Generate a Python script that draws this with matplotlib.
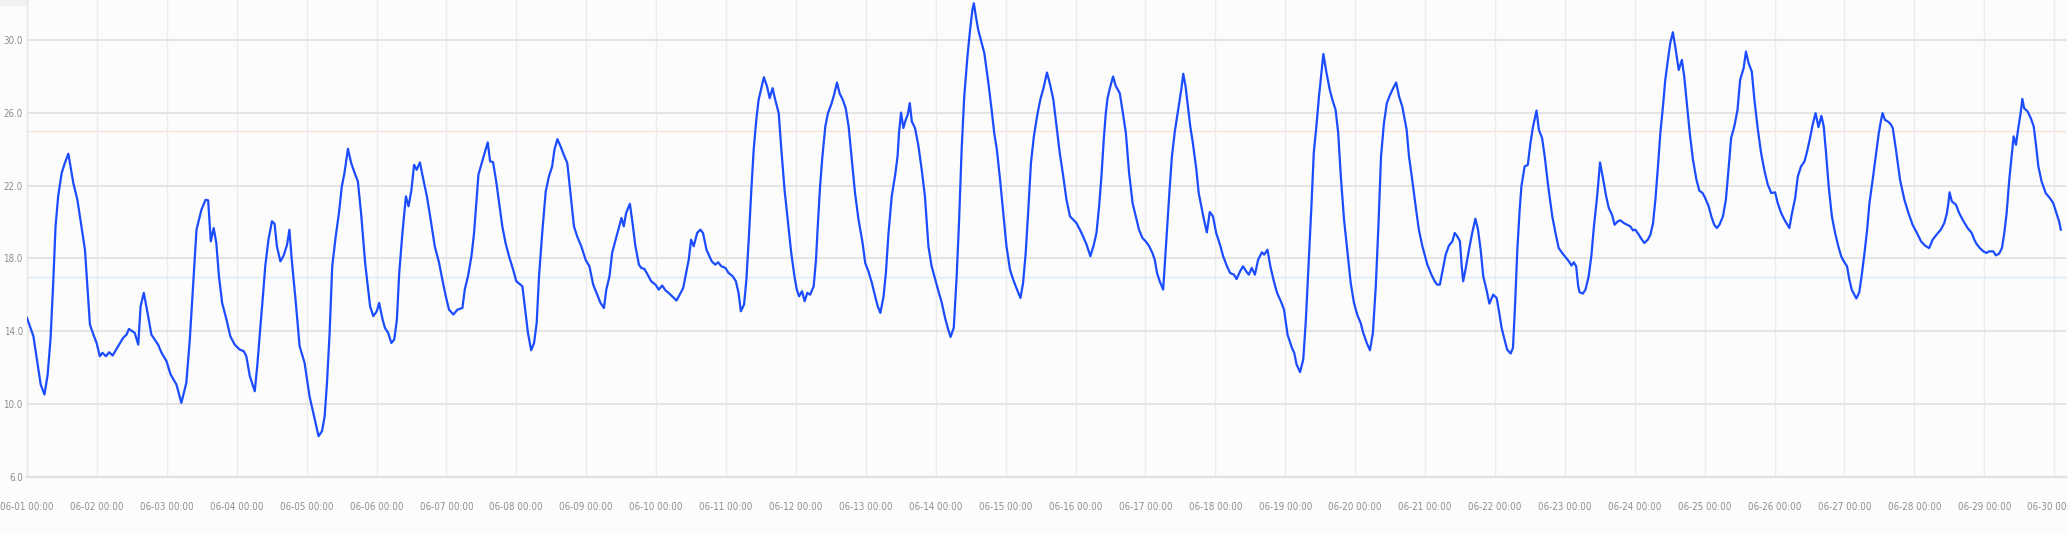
import matplotlib
matplotlib.use("Agg")
import matplotlib.pyplot as plt
import matplotlib.dates as mdates
from matplotlib import font_manager
import pandas as pd

# hours after 06-01 00:00 and temperature values
hours = [
    0.0, 2.2, 4.7, 6.0, 7.1, 8.1, 9.0, 9.8, 10.7, 11.9, 13.0, 14.2, 15.9, 17.3, 18.7, 19.9,
    20.8, 21.6, 23.0, 23.9, 25.0, 25.9, 27.1, 28.2, 29.4, 31.3, 33.0, 34.2, 35.0, 37.0, 38.2,
    39.0, 40.1, 41.6, 42.7, 45.0, 46.2, 47.9, 49.3, 51.3, 53.0, 54.7, 55.9, 57.0, 58.2, 59.9,
    61.3, 62.2, 63.1, 64.1, 65.0, 65.9, 67.0, 68.5, 69.8, 71.3, 73.0, 74.4, 75.3, 76.5, 78.2,
    79.1, 80.1, 81.0, 81.8, 82.9, 84.1, 85.0, 85.8, 87.0, 88.1, 89.3, 90.1, 91.0, 92.2, 93.6,
    95.3, 97.0, 98.8, 100.1, 101.3, 102.2, 103.0, 103.9, 104.8, 106.0, 107.1, 108.1, 109.0,
    110.2, 111.3, 112.5, 113.6, 114.7, 116.1,
    117.8, 118.9, 120.1, 120.9, 122.1, 122.9, 124.0, 125.1, 126.1, 127.0, 127.8, 128.9, 130.1,
    131.0, 132.0, 132.9, 133.8, 134.9, 136.1, 137.3, 138.6, 140.0, 141.5, 142.6, 143.8, 144.9,
    146.4, 147.8, 149.5, 150.3, 151.4, 152.6, 153.5, 154.2, 155.0, 155.8, 157.1, 158.2, 159.0,
    160.0, 161.1, 162.1, 163.2, 164.3, 165.5, 166.9, 168.0, 170.1, 170.9, 172.0, 173.1, 174.1,
    175.0, 175.8, 176.9, 178.1, 179.2, 180.3, 181.1, 182.1, 183.2, 184.3, 185.5, 186.6, 187.8,
    188.9, 190.3, 191.8, 193.1, 194.4, 195.8, 196.9, 198.1, 198.9, 200.0, 200.9, 202.1, 203.2,
    204.1, 204.9, 205.7, 207.0, 207.9, 208.9, 210.1, 210.9, 212.0, 213.1, 214.3, 215.8, 216.9,
    218.1, 219.2, 220.3, 221.5, 223.0, 224.1, 225.3, 226.1, 227.2, 228.0, 228.9, 230.1, 231.2,
    232.1, 233.3,
    235.1, 236.3, 237.3, 238.4, 239.8, 240.9, 242.3, 243.4, 244.3, 245.1, 246.2, 247.0, 247.8,
    248.7, 249.5, 250.4, 251.2, 252.0, 253.0, 254.1, 255.0, 256.0, 256.9, 258.1, 259.0, 260.1,
    261.3, 262.4, 263.5, 264.3, 265.1, 266.1, 267.0, 267.9, 268.9, 270.1, 270.9, 271.5, 272.3,
    273.1, 274.1, 275.0, 276.1, 277.1, 278.1, 279.0, 280.1, 281.1, 282.1, 283.2, 284.3, 285.5,
    286.9, 287.8, 288.9, 290.1, 291.2, 292.1, 293.0, 294.1, 294.9, 295.8, 296.9, 298.1, 298.9,
    299.4, 300.1, 300.9, 301.7, 302.4, 303.1, 303.8, 304.9, 306.1, 307.2, 308.3, 309.5, 310.6,
    312.0, 313.1, 314.1, 315.2, 316.3, 317.1, 318.2, 319.2, 320.0, 320.9, 321.8, 322.9, 323.8,
    324.6, 325.1, 325.8, 326.6, 327.5, 328.7, 330.1, 331.2, 332.1, 333.0, 334.1, 335.2, 336.3,
    337.5, 338.6, 339.7, 341.1, 342.0, 342.9, 343.8, 344.7, 345.7, 346.9, 347.9, 349.0, 350.2,
    351.3, 352.4,
    354.6, 355.8, 356.9, 358.1, 359.2, 360.3, 361.5, 362.6, 363.8, 365.1, 366.3, 367.2, 368.1,
    368.9, 369.7, 370.4, 371.0, 371.8, 372.9, 373.8, 375.2, 376.1, 377.3, 378.4, 379.6, 380.7,
    381.8, 383.0, 384.1, 385.3, 386.4, 387.2, 388.0, 388.9, 390.1, 390.9, 391.5, 392.3, 393.1,
    394.1, 394.9, 395.8, 396.3, 397.0, 397.8, 398.6, 399.4, 400.3, 401.5, 402.3, 403.2, 404.1,
    405.1, 406.1, 407.2, 408.3, 409.6, 410.7, 412.0, 413.1, 414.4, 415.3, 416.5, 417.5, 418.6,
    419.5, 420.5, 421.6, 422.7, 424.0, 424.8, 425.9, 426.9, 428.1, 429.2, 430.5, 431.6, 432.8,
    434.3, 435.1, 435.9, 437.1, 438.2, 439.1, 440.0, 441.0, 441.8, 442.7, 443.6, 444.3, 445.1,
    446.1, 447.3, 448.2, 449.3, 450.2, 451.1, 452.2, 453.3, 454.5, 455.6, 456.7, 457.9, 458.8,
    460.0, 461.1, 462.1, 463.1, 464.0, 464.9, 465.9, 466.9, 468.0, 468.8, 470.1, 471.1, 472.2,
    473.7, 474.5, 475.3, 476.2, 477.1, 477.9, 479.1, 480.8, 482.2, 483.3, 484.2, 485.1, 486.1,
    487.1, 488.2, 489.4, 490.2, 491.1, 492.0, 492.6, 493.1, 493.9, 495.1, 496.2, 497.3, 498.2,
    499.1, 500.0, 501.1, 502.1, 502.7, 503.4, 504.6, 505.4, 506.3, 507.3, 508.2, 509.4, 510.2,
    510.9, 511.7, 512.5, 513.1, 514.2, 515.3, 516.2, 517.1, 518.3, 519.1, 520.2, 521.1, 522.3,
    523.7, 524.8, 525.9, 527.1, 528.2, 529.4, 530.3, 531.1, 531.9, 532.6, 533.1, 534.2, 535.1,
    536.2, 537.1, 538.0, 539.1, 540.1, 541.2, 542.2, 543.1, 544.2, 545.1, 546.2, 547.1, 548.2,
    549.4, 550.5, 551.4, 552.2, 553.4, 554.3, 555.3, 556.5, 557.4, 558.3, 559.1, 559.9, 560.8,
    561.7, 562.5, 563.4, 564.2, 565.1, 566.1, 567.1, 568.2, 569.0, 569.9, 570.9, 572.0, 573.2,
    574.2, 575.3, 576.2, 577.4, 578.3, 579.3, 580.2, 581.1, 582.3, 583.3, 584.2, 585.1, 586.2,
    587.3, 588.2, 589.4,
    590.2, 591.1, 592.2, 593.1, 594.3, 595.4, 596.6, 597.7, 598.9, 600.2, 601.1, 602.3, 603.4,
    605.1, 605.9, 607.1, 608.0, 609.1, 610.3, 611.2, 612.2, 613.1, 614.1, 615.1, 616.1, 616.9,
    617.7, 618.6, 619.7, 620.8, 621.9, 622.9, 623.8, 624.9, 625.7, 626.5, 627.4, 628.1, 629.1,
    629.9, 630.9, 631.8, 632.6, 633.7, 634.9, 635.8, 636.6, 637.1, 637.9, 638.9, 639.8, 640.6,
    641.7, 643.1, 644.6, 646.0, 647.4, 648.9, 650.3, 651.7, 653.1, 654.3, 655.8, 657.1, 658.3,
    659.2, 659.7, 660.1, 660.9, 662.3, 663.4, 664.9, 666.3, 667.7, 668.6, 669.4, 670.5, 671.7,
    672.8, 673.7, 675.1, 676.0, 677.1, 678.1, 678.9, 679.7, 680.6, 681.4, 682.1, 682.9, 683.7,
    684.5, 685.1, 685.7, 686.9, 688.0, 689.0, 689.7, 690.6, 691.7, 693.1, 694.5, 695.7, 696.8,
    697.7, 698.3,
]

temps = [
    14.73, 13.73, 11.08, 10.53, 11.63, 13.64, 16.65, 19.76, 21.41, 22.69, 23.24, 23.75, 22.14,
    21.22, 19.76, 18.48, 16.29, 14.37, 13.73, 13.36, 12.63, 12.82, 12.63, 12.85, 12.67, 13.18,
    13.64, 13.82, 14.13, 13.91, 13.27, 15.37, 16.11, 14.83, 13.82, 13.27, 12.82, 12.36, 11.63,
    11.08, 10.07, 11.17, 13.55, 16.47, 19.58, 20.68, 21.22, 21.19, 18.94, 19.67, 18.85, 17.02,
    15.56, 14.64, 13.73, 13.27, 13.00, 12.91, 12.63, 11.54, 10.71, 12.18, 14.19, 15.92, 17.57,
    19.03, 20.04, 19.91, 18.67, 17.84, 18.15, 18.76, 19.58, 17.75, 15.74, 13.18, 12.27, 10.44,
    9.16, 8.24, 8.52, 9.34, 11.17, 13.91, 17.57, 19.21, 20.49, 21.96, 22.69, 24.02, 23.24,
    22.69, 22.23, 20.49, 17.75,
    15.37, 14.83, 15.10, 15.56, 14.64, 14.19, 13.91, 13.36, 13.55, 14.64, 17.20, 19.40, 21.41,
    20.86, 21.77, 23.14, 22.87, 23.27, 22.32, 21.41, 20.13, 18.67, 17.75, 16.84, 15.92, 15.19,
    14.92, 15.19, 15.28, 16.29, 17.02, 18.12, 19.40, 20.86, 22.60, 23.05, 23.78, 24.37, 23.33,
    23.29, 22.23, 21.04, 19.76, 18.85, 18.12, 17.39, 16.75, 16.47, 15.37, 13.91, 12.96, 13.36,
    14.46, 17.02, 19.40, 21.68, 22.50, 23.05, 23.97, 24.55, 24.15, 23.69, 23.24, 21.59, 19.76,
    19.21, 18.67, 17.93, 17.57, 16.56, 16.01, 15.56, 15.28, 16.29, 17.02, 18.30, 19.03, 19.67,
    20.22, 19.76, 20.49, 21.00, 19.95, 18.67, 17.66, 17.48, 17.42, 17.11, 16.75, 16.56, 16.29,
    16.51, 16.25, 16.11, 15.92, 15.69, 16.01, 16.38, 17.02, 17.93, 19.03, 18.67, 19.40, 19.58,
    19.40, 18.48,
    17.84, 17.66, 17.79, 17.57, 17.48, 17.20, 17.02, 16.75, 16.11, 15.10, 15.47, 16.84, 19.03,
    21.77, 23.97, 25.61, 26.71, 27.26, 27.95, 27.44, 26.80, 27.35, 26.71, 25.98, 23.97, 21.77,
    19.95, 18.30, 17.02, 16.29, 15.92, 16.20, 15.65, 16.11, 16.01, 16.47, 17.93, 19.76, 21.96,
    23.60, 25.25, 25.98, 26.44, 26.98, 27.66, 27.07, 26.71, 26.25, 25.25, 23.42, 21.59, 20.13,
    18.85, 17.75, 17.29, 16.65, 15.92, 15.37, 15.01, 15.92, 17.20, 19.40, 21.41, 22.60, 23.60,
    24.88, 26.01, 25.16, 25.61, 25.89, 26.53, 25.52, 25.16, 24.15, 22.87, 21.41, 18.67, 17.57,
    16.75, 16.11, 15.56, 14.74, 14.10, 13.69, 14.19, 17.02, 19.95, 23.97, 26.89, 29.09, 30.55,
    31.65, 32.01, 31.28, 30.55, 30.00, 29.27, 27.62, 26.16, 24.88, 23.97, 22.32, 20.49, 18.67,
    17.39, 16.84, 16.38, 15.83, 16.65, 18.30, 20.68, 23.24, 24.70, 25.89, 26.71, 27.35, 28.21,
    27.53, 26.71,
    23.78, 22.50, 21.22, 20.31, 20.13, 19.95, 19.58, 19.21, 18.76, 18.12, 18.76, 19.40, 20.86,
    22.50, 24.52, 25.98, 26.80, 27.35, 27.99, 27.48, 27.07, 26.16, 24.88, 22.69, 21.04, 20.31,
    19.58, 19.12, 18.94, 18.67, 18.30, 17.93, 17.20, 16.75, 16.29, 18.30, 19.76, 21.77, 23.60,
    24.97, 25.80, 26.71, 27.26, 28.14, 27.44, 26.34, 25.25, 24.33, 22.87, 21.59, 20.86, 20.13,
    19.43, 20.55, 20.31, 19.40, 18.76, 18.12, 17.57, 17.20, 17.11, 16.87, 17.29, 17.57, 17.29,
    17.11, 17.48, 17.11, 17.93, 18.34, 18.21, 18.48, 17.57, 16.75, 16.11, 15.65, 15.19, 13.82,
    13.09, 12.82, 12.18, 11.76, 12.45, 14.64, 17.57, 20.86, 23.78, 25.25, 26.89, 27.99, 29.23,
    28.26, 27.26, 26.71, 26.16, 24.88, 22.50, 20.13, 18.48, 16.65, 15.56, 14.92, 14.46, 13.91,
    13.36, 12.96, 13.91, 16.47, 19.76, 23.60, 25.43, 26.53, 26.98, 27.26, 27.66, 26.89, 26.34,
    25.06, 23.60, 22.69, 21.59, 20.49, 19.58, 18.67, 17.66, 17.11, 16.75, 16.56, 16.56, 17.39,
    18.21, 18.70, 18.94, 19.40, 19.21, 18.94, 17.57, 16.75, 17.39, 18.48, 19.40, 20.18, 19.58,
    18.48, 17.02, 16.29, 15.52, 15.74, 16.01, 15.83, 15.10, 14.19, 13.55, 13.00, 12.78, 13.09,
    15.37, 18.48, 20.68, 21.96, 23.05, 23.14, 24.33, 25.25, 26.12, 25.06, 24.61, 23.60, 21.96,
    20.31, 19.40, 18.57, 18.30, 18.08, 17.84, 17.61, 17.79, 17.57, 16.47, 16.14, 16.07, 16.29,
    17.02, 18.12, 19.76, 21.41, 23.27, 22.32, 21.41, 20.77, 20.40, 19.85, 20.04, 20.09, 19.95,
    19.85, 19.76, 19.54, 19.58, 19.31, 19.07, 18.85, 19.03, 19.31, 19.95, 21.22, 22.87, 24.88,
    26.34, 27.81, 28.90, 29.82, 30.42, 29.45, 28.35, 28.90, 27.99, 26.53, 24.88, 23.42, 22.32,
    21.72, 21.59, 21.32, 20.86, 20.31, 19.85, 19.67, 19.85, 20.31, 21.22, 22.87, 24.61, 25.25,
    26.16, 27.81, 28.45,
    29.36, 28.72, 28.26, 26.71, 25.06, 23.78, 22.78, 22.05, 21.59, 21.63, 21.04, 20.49, 20.13,
    19.67, 20.40, 21.32, 22.50, 23.05, 23.33, 23.88, 24.61, 25.34, 25.98, 25.21, 25.83, 25.25,
    23.78, 21.96, 20.31, 19.40, 18.67, 18.12, 17.84, 17.57, 16.84, 16.29, 16.01, 15.80, 16.14,
    17.02, 18.30, 19.58, 21.04, 22.32, 23.78, 24.88, 25.61, 25.98, 25.61, 25.52, 25.39, 25.16,
    23.97, 22.32, 21.22, 20.49, 19.85, 19.40, 18.94, 18.70, 18.57, 19.03, 19.34, 19.58, 19.95,
    20.49, 21.04, 21.63, 21.13, 20.95, 20.49, 20.04, 19.67, 19.40, 19.03, 18.79, 18.57, 18.39,
    18.30, 18.39, 18.39, 18.17, 18.26, 18.57, 19.40, 20.49, 22.32, 23.60, 24.70, 24.24, 25.16,
    25.98, 26.76, 26.25, 26.07, 25.70, 25.25, 24.33, 23.05, 22.23, 21.59, 21.32, 21.04, 20.49,
    20.04, 19.58,
]

start_label = "2024-06-01 00:00"
end_label = "2024-06-30 04:05"
y_ticks = [6.0, 10.0, 14.0, 18.0, 22.0, 26.0, 30.0]
upper_ref = 25.0
lower_ref = 17.0

# pick the narrowest installed sans face
available = {f.name for f in font_manager.fontManager.ttflist}
narrow_names = ["Liberation Sans Narrow", "DejaVu Sans Condensed"]
fam_name = next((n for n in narrow_names if n in available), "DejaVu Sans")

start = pd.Timestamp(start_label)
times = start + pd.to_timedelta(hours, unit="h")

fig = plt.figure(figsize=(20.68, 5.34), dpi=100, facecolor="#fcfcfc")
ax = fig.add_axes([27 / 2068, 57 / 534, 2039 / 2068, 477 / 534])
ax.set_facecolor("#fcfcfc")

ax.axhline(upper_ref, color="#f8e2da", lw=1.0, zorder=1)
ax.axhline(lower_ref, color="#d8eafc", lw=1.0, zorder=1)

ax.plot(times, temps, color="#1b4dff", lw=1.6, zorder=3)

ax.set_xlim(start, pd.Timestamp(end_label))
ax.set_ylim(6.0, 32.19)
ax.set_yticks(y_ticks)
ax.set_yticklabels([f"{v:.1f}" for v in y_ticks])

ax.xaxis.set_major_locator(mdates.DayLocator())
ax.xaxis.set_major_formatter(mdates.DateFormatter("%m-%d %H:%M"))

ax.grid(axis="y", color="#e4e4e4", lw=1.4, zorder=0)
ax.grid(axis="x", color="#ececec", lw=1.0, zorder=0)

for s in ["top", "right"]:
    ax.spines[s].set_visible(False)
ax.spines["bottom"].set_color("#e2e2e2")
ax.spines["bottom"].set_linewidth(1.6)
ax.spines["left"].set_color("#e6e6e6")
ax.spines["left"].set_linewidth(1.0)

size = 8 if fam_name != "DejaVu Sans" else 7
ax.tick_params(axis="both", length=0, colors="#8e8e8e", labelsize=size)
ax.tick_params(axis="x", pad=18)
ax.tick_params(axis="y", pad=3)
for lab in ax.get_xticklabels() + ax.get_yticklabels():
    lab.set_family([fam_name, "DejaVu Sans"])
    lab.set_stretch("condensed")

# faint top band as in the reference
fig.patches.append(plt.Rectangle((0, 1 - 5 / 534), 0.33, 5 / 534, transform=fig.transFigure,
                                 color="#f2f2f2", zorder=-1))

fig.savefig("out.png", dpi=100, facecolor=fig.get_facecolor())
